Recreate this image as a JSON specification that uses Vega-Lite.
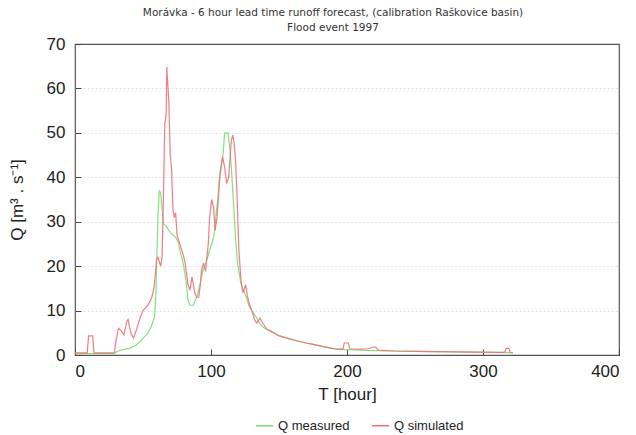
{
  "$schema": "https://vega.github.io/schema/vega-lite/v6.json",
  "width": 544,
  "height": 311,
  "autosize": {"type": "none"},
  "padding": {"left": 75, "top": 44, "right": 17, "bottom": 80},
  "background": "white",
  "title": {
    "text": "Morávka - 6 hour lead time runoff forecast, (calibration Raškovice basin)",
    "subtitle": "Flood event 1997",
    "anchor": "middle",
    "frame": "group",
    "dx": -14,
    "font": "DejaVu Sans",
    "subtitleFont": "DejaVu Sans",
    "fontSize": 10.5,
    "subtitleFontSize": 10.5,
    "fontWeight": "normal",
    "color": "#333333",
    "subtitleColor": "#333333",
    "offset": 2,
    "subtitlePadding": 4
  },
  "config": {
    "view": {"stroke": "#555555", "strokeWidth": 1.2},
    "axis": {
      "labelFont": "Liberation Sans",
      "titleFont": "Liberation Sans",
      "labelColor": "#222222",
      "titleColor": "#222222",
      "titleFontWeight": "normal",
      "domain": false
    }
  },
  "data": {
    "values": [
      {"s": "Q measured", "t": 0, "q": 0.3},
      {"s": "Q measured", "t": 29, "q": 0.3},
      {"s": "Q measured", "t": 31, "q": 0.8},
      {"s": "Q measured", "t": 35, "q": 1.2},
      {"s": "Q measured", "t": 40, "q": 1.5},
      {"s": "Q measured", "t": 45, "q": 2.2},
      {"s": "Q measured", "t": 49, "q": 3.4},
      {"s": "Q measured", "t": 53.5, "q": 4.9},
      {"s": "Q measured", "t": 56, "q": 6.3},
      {"s": "Q measured", "t": 58.5, "q": 8.6},
      {"s": "Q measured", "t": 59.5, "q": 14},
      {"s": "Q measured", "t": 60, "q": 20.7},
      {"s": "Q measured", "t": 61, "q": 31},
      {"s": "Q measured", "t": 62, "q": 37},
      {"s": "Q measured", "t": 63, "q": 36.5},
      {"s": "Q measured", "t": 64, "q": 33},
      {"s": "Q measured", "t": 65, "q": 29.5},
      {"s": "Q measured", "t": 67, "q": 29},
      {"s": "Q measured", "t": 69, "q": 28},
      {"s": "Q measured", "t": 72, "q": 27},
      {"s": "Q measured", "t": 74, "q": 26.5},
      {"s": "Q measured", "t": 76, "q": 25.3},
      {"s": "Q measured", "t": 78, "q": 22.5},
      {"s": "Q measured", "t": 79.5, "q": 20.7},
      {"s": "Q measured", "t": 81, "q": 18},
      {"s": "Q measured", "t": 82, "q": 16},
      {"s": "Q measured", "t": 83, "q": 12.4},
      {"s": "Q measured", "t": 84.5, "q": 11.2},
      {"s": "Q measured", "t": 87, "q": 11.2},
      {"s": "Q measured", "t": 88, "q": 12},
      {"s": "Q measured", "t": 89.5, "q": 13},
      {"s": "Q measured", "t": 92, "q": 16},
      {"s": "Q measured", "t": 94, "q": 19},
      {"s": "Q measured", "t": 96.5, "q": 21},
      {"s": "Q measured", "t": 99, "q": 23.6},
      {"s": "Q measured", "t": 102, "q": 26.5},
      {"s": "Q measured", "t": 103, "q": 29},
      {"s": "Q measured", "t": 104, "q": 32.6},
      {"s": "Q measured", "t": 105, "q": 35},
      {"s": "Q measured", "t": 106.5, "q": 41},
      {"s": "Q measured", "t": 109, "q": 45.4},
      {"s": "Q measured", "t": 110, "q": 50},
      {"s": "Q measured", "t": 112.5, "q": 50},
      {"s": "Q measured", "t": 114, "q": 46},
      {"s": "Q measured", "t": 115, "q": 42},
      {"s": "Q measured", "t": 116, "q": 37},
      {"s": "Q measured", "t": 118, "q": 26.6},
      {"s": "Q measured", "t": 119.5, "q": 20.7},
      {"s": "Q measured", "t": 122, "q": 16},
      {"s": "Q measured", "t": 124, "q": 14.5},
      {"s": "Q measured", "t": 126, "q": 13},
      {"s": "Q measured", "t": 128, "q": 11},
      {"s": "Q measured", "t": 130, "q": 10},
      {"s": "Q measured", "t": 133, "q": 8.6},
      {"s": "Q measured", "t": 136, "q": 7},
      {"s": "Q measured", "t": 138, "q": 6.3},
      {"s": "Q measured", "t": 143, "q": 5.4},
      {"s": "Q measured", "t": 150, "q": 4.4},
      {"s": "Q measured", "t": 157, "q": 3.7},
      {"s": "Q measured", "t": 163, "q": 3.2},
      {"s": "Q measured", "t": 170, "q": 2.7},
      {"s": "Q measured", "t": 175, "q": 2.4},
      {"s": "Q measured", "t": 181, "q": 2.0},
      {"s": "Q measured", "t": 187, "q": 1.6},
      {"s": "Q measured", "t": 193, "q": 1.3},
      {"s": "Q measured", "t": 200, "q": 1.2},
      {"s": "Q measured", "t": 210, "q": 1.1},
      {"s": "Q measured", "t": 220, "q": 1.0},
      {"s": "Q measured", "t": 235, "q": 0.9},
      {"s": "Q measured", "t": 250, "q": 0.8},
      {"s": "Q measured", "t": 265, "q": 0.75},
      {"s": "Q measured", "t": 280, "q": 0.7},
      {"s": "Q measured", "t": 295, "q": 0.65},
      {"s": "Q measured", "t": 310, "q": 0.6},
      {"s": "Q measured", "t": 322, "q": 0.5},
      {"s": "Q simulated", "t": 0, "q": 0.5},
      {"s": "Q simulated", "t": 9, "q": 0.5},
      {"s": "Q simulated", "t": 10, "q": 4.3},
      {"s": "Q simulated", "t": 13, "q": 4.3},
      {"s": "Q simulated", "t": 14, "q": 0.5},
      {"s": "Q simulated", "t": 29, "q": 0.5},
      {"s": "Q simulated", "t": 30, "q": 3},
      {"s": "Q simulated", "t": 32, "q": 6},
      {"s": "Q simulated", "t": 34, "q": 5.5},
      {"s": "Q simulated", "t": 36, "q": 4.5},
      {"s": "Q simulated", "t": 38, "q": 7.5},
      {"s": "Q simulated", "t": 39, "q": 8},
      {"s": "Q simulated", "t": 41, "q": 5},
      {"s": "Q simulated", "t": 43, "q": 3.8},
      {"s": "Q simulated", "t": 45, "q": 5.5},
      {"s": "Q simulated", "t": 48, "q": 8.5},
      {"s": "Q simulated", "t": 50, "q": 10},
      {"s": "Q simulated", "t": 53, "q": 11},
      {"s": "Q simulated", "t": 55, "q": 12},
      {"s": "Q simulated", "t": 56.5, "q": 13},
      {"s": "Q simulated", "t": 58, "q": 15},
      {"s": "Q simulated", "t": 59, "q": 18},
      {"s": "Q simulated", "t": 60, "q": 21.5},
      {"s": "Q simulated", "t": 61, "q": 22},
      {"s": "Q simulated", "t": 62, "q": 21},
      {"s": "Q simulated", "t": 63, "q": 20},
      {"s": "Q simulated", "t": 64, "q": 22},
      {"s": "Q simulated", "t": 65, "q": 35},
      {"s": "Q simulated", "t": 66, "q": 52},
      {"s": "Q simulated", "t": 67, "q": 54},
      {"s": "Q simulated", "t": 67.5, "q": 64.8},
      {"s": "Q simulated", "t": 68, "q": 62},
      {"s": "Q simulated", "t": 69, "q": 57},
      {"s": "Q simulated", "t": 70, "q": 45},
      {"s": "Q simulated", "t": 71, "q": 42},
      {"s": "Q simulated", "t": 72, "q": 32.6},
      {"s": "Q simulated", "t": 73, "q": 31},
      {"s": "Q simulated", "t": 74, "q": 32},
      {"s": "Q simulated", "t": 75, "q": 27},
      {"s": "Q simulated", "t": 77, "q": 25},
      {"s": "Q simulated", "t": 78.5, "q": 23.6},
      {"s": "Q simulated", "t": 80, "q": 22},
      {"s": "Q simulated", "t": 81, "q": 20.7},
      {"s": "Q simulated", "t": 83, "q": 16},
      {"s": "Q simulated", "t": 84.5, "q": 14.6},
      {"s": "Q simulated", "t": 86, "q": 17.6},
      {"s": "Q simulated", "t": 87, "q": 16},
      {"s": "Q simulated", "t": 88, "q": 14},
      {"s": "Q simulated", "t": 89.5, "q": 13},
      {"s": "Q simulated", "t": 91, "q": 13},
      {"s": "Q simulated", "t": 92, "q": 15.3},
      {"s": "Q simulated", "t": 93, "q": 19},
      {"s": "Q simulated", "t": 94.5, "q": 20.7},
      {"s": "Q simulated", "t": 96, "q": 18.8},
      {"s": "Q simulated", "t": 97, "q": 22},
      {"s": "Q simulated", "t": 98, "q": 25},
      {"s": "Q simulated", "t": 99, "q": 31},
      {"s": "Q simulated", "t": 100.5, "q": 35},
      {"s": "Q simulated", "t": 102, "q": 33},
      {"s": "Q simulated", "t": 103, "q": 28},
      {"s": "Q simulated", "t": 104.5, "q": 31},
      {"s": "Q simulated", "t": 106.5, "q": 40},
      {"s": "Q simulated", "t": 108.5, "q": 44.6},
      {"s": "Q simulated", "t": 110, "q": 42.3},
      {"s": "Q simulated", "t": 111.5, "q": 38.6},
      {"s": "Q simulated", "t": 113, "q": 40},
      {"s": "Q simulated", "t": 115, "q": 48.4},
      {"s": "Q simulated", "t": 116, "q": 49.5},
      {"s": "Q simulated", "t": 117, "q": 47.7},
      {"s": "Q simulated", "t": 118, "q": 44},
      {"s": "Q simulated", "t": 119, "q": 37},
      {"s": "Q simulated", "t": 120.5, "q": 23.6},
      {"s": "Q simulated", "t": 122, "q": 17},
      {"s": "Q simulated", "t": 123.5, "q": 14},
      {"s": "Q simulated", "t": 125.5, "q": 15.8},
      {"s": "Q simulated", "t": 127, "q": 13},
      {"s": "Q simulated", "t": 128, "q": 11.7},
      {"s": "Q simulated", "t": 130, "q": 10},
      {"s": "Q simulated", "t": 132, "q": 8},
      {"s": "Q simulated", "t": 133.5, "q": 7.2},
      {"s": "Q simulated", "t": 136, "q": 8.3},
      {"s": "Q simulated", "t": 138, "q": 7.2},
      {"s": "Q simulated", "t": 141, "q": 5.8},
      {"s": "Q simulated", "t": 143, "q": 5.6},
      {"s": "Q simulated", "t": 150, "q": 4.3},
      {"s": "Q simulated", "t": 157, "q": 3.7},
      {"s": "Q simulated", "t": 163, "q": 3.2},
      {"s": "Q simulated", "t": 170, "q": 2.7},
      {"s": "Q simulated", "t": 175, "q": 2.4},
      {"s": "Q simulated", "t": 181, "q": 2.0},
      {"s": "Q simulated", "t": 187, "q": 1.6},
      {"s": "Q simulated", "t": 193, "q": 1.3},
      {"s": "Q simulated", "t": 197, "q": 1.3},
      {"s": "Q simulated", "t": 198, "q": 2.7},
      {"s": "Q simulated", "t": 201, "q": 2.7},
      {"s": "Q simulated", "t": 202, "q": 1.4},
      {"s": "Q simulated", "t": 210, "q": 1.3},
      {"s": "Q simulated", "t": 216, "q": 1.4},
      {"s": "Q simulated", "t": 219, "q": 1.8},
      {"s": "Q simulated", "t": 221, "q": 1.8},
      {"s": "Q simulated", "t": 223, "q": 1.1},
      {"s": "Q simulated", "t": 235, "q": 0.9},
      {"s": "Q simulated", "t": 250, "q": 0.8},
      {"s": "Q simulated", "t": 265, "q": 0.75},
      {"s": "Q simulated", "t": 280, "q": 0.7},
      {"s": "Q simulated", "t": 295, "q": 0.65},
      {"s": "Q simulated", "t": 310, "q": 0.6},
      {"s": "Q simulated", "t": 316, "q": 0.6},
      {"s": "Q simulated", "t": 317, "q": 1.5},
      {"s": "Q simulated", "t": 319, "q": 1.5},
      {"s": "Q simulated", "t": 320, "q": 0.6},
      {"s": "Q simulated", "t": 322, "q": 0.5}
    ]
  },
  "mark": {"type": "line", "strokeWidth": 1.2, "strokeOpacity": 0.9},
  "encoding": {
    "x": {
      "field": "t",
      "type": "quantitative",
      "scale": {"domain": [0, 400], "nice": false},
      "axis": {
        "values": [0, 100, 200, 300, 400],
        "title": "T [hour]",
        "grid": false,
        "labelFontSize": 17,
        "titleFontSize": 17,
        "tickSize": -6,
        "tickColor": "#444444",
        "labelPadding": 14,
        "titlePadding": 7
      }
    },
    "y": {
      "field": "q",
      "type": "quantitative",
      "scale": {"domain": [0, 70], "nice": false},
      "axis": {
        "values": [0, 10, 20, 30, 40, 50, 60, 70],
        "title": "Q [m³ . s⁻¹]",
        "grid": true,
        "gridColor": "#e2e2e2",
        "gridDash": [2, 2],
        "gridOpacity": {"condition": {"test": "datum.value === 70 || datum.value === 0", "value": 0}, "value": 1},
        "labelFontSize": 17,
        "titleFontSize": 17,
        "tickSize": -6,
        "tickColor": "#444444",
        "labelPadding": 16,
        "titlePadding": 20
      }
    },
    "color": {
      "field": "s",
      "type": "nominal",
      "scale": {"domain": ["Q measured", "Q simulated"], "range": ["#74de74", "#f07078"]},
      "legend": {
        "title": null,
        "orient": "none",
        "legendX": 180,
        "legendY": 372,
        "direction": "horizontal",
        "symbolType": "stroke",
        "symbolStrokeWidth": 1.5,
        "symbolSize": 300,
        "labelFont": "Liberation Sans",
        "labelFontSize": 13,
        "labelColor": "#222222",
        "columnPadding": 18
      }
    }
  }
}
